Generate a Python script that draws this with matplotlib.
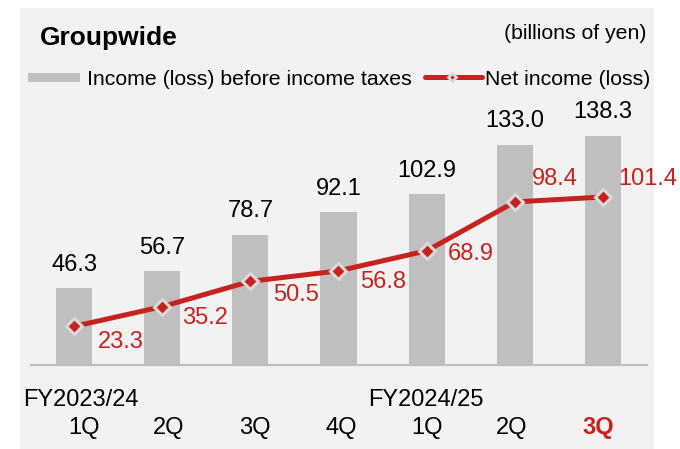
import matplotlib
matplotlib.use('Agg')
import matplotlib.pyplot as plt
from matplotlib.patches import Rectangle
from matplotlib.lines import Line2D
from matplotlib.transforms import blended_transform_factory, offset_copy

plt.rcParams['font.family'] = ['Liberation Sans', 'DejaVu Sans']

# data
quarters = ['1Q', '2Q', '3Q', '4Q', '1Q', '2Q', '3Q']
fiscal_years = ['FY2023/24', 'FY2024/25']
fiscal_year_pos = [0, 4]
pretax = [46.3, 56.7, 78.7, 92.1, 102.9, 133.0, 138.3]
net = [23.3, 35.2, 50.5, 56.8, 68.9, 98.4, 101.4]

# label offsets for net income values (pixels)
net_offsets = [(47, -22), (43, -17), (46, -20), (45, -17), (44, -9), (40, 17), (45, 12)]
# small horizontal nudges of the category labels (pixels)
quarter_nudge = [10, 6, 5, 2.5, 0, -3, -5]
fy_nudge = [6.5, -1]

gris = '#bfbfbf'
rojo = '#c8221f'
fondo = '#f2f2f2'

W, H = 680, 449
fig = plt.figure(figsize=(W / 100, H / 100), dpi=100)
fig.patch.set_facecolor('white')


def fx(x):
    return x / W


def fy(y):
    return 1 - y / H


# gray panel
fig.add_artist(Rectangle((fx(20), 0), fx(654) - fx(20), fy(8), transform=fig.transFigure,
                         facecolor=fondo, edgecolor='none', zorder=-1))

escala = 1.657
ymax = 160
ax = fig.add_axes([fx(31), fy(365), fx(647) - fx(31), ymax * escala / H])
ax.set_facecolor('none')
ax.set_xlim(-0.488, 6.5)
ax.set_ylim(0, ymax)

x = list(range(len(quarters)))
ax.bar(x, pretax, width=0.41, color=gris, zorder=1)
ax.plot(x, net, color=rojo, lw=3.6, marker='D', ms=8, mfc=rojo, mec='#d9d9d9', mew=2.2,
        zorder=3, solid_capstyle='butt')

for s in ['top', 'left', 'right']:
    ax.spines[s].set_visible(False)
ax.spines['bottom'].set_color(gris)
ax.spines['bottom'].set_linewidth(1.6)
ax.spines['bottom'].set_zorder(2)
ax.set_yticks([])
ax.set_xticks([])

for i, v in enumerate(pretax):
    ax.annotate(f'{v:.1f}', (i, v), xytext=(0, 17.5), textcoords='offset pixels',
                ha='center', va='baseline', fontsize=17, color='black')

for i, v in enumerate(net):
    dx, dy = net_offsets[i]
    ax.annotate(f'{v:.1f}', (i, v), xytext=(dx, dy), textcoords='offset pixels',
                ha='center', va='baseline', fontsize=17, color=rojo, zorder=4)

trans = blended_transform_factory(ax.transData, fig.transFigure)
for i, q in enumerate(quarters):
    last = i == len(quarters) - 1
    t = offset_copy(trans, fig=fig, x=quarter_nudge[i], y=0, units='dots')
    ax.text(i, fy(434), q, transform=t, ha='center', va='baseline', fontsize=17,
            color=rojo if last else 'black', fontweight='bold' if last else 'normal')
for p, fyl, n in zip(fiscal_year_pos, fiscal_years, fy_nudge):
    t = offset_copy(trans, fig=fig, x=n, y=0, units='dots')
    ax.text(p, fy(406), fyl, transform=t, ha='center', va='baseline', fontsize=17)

# titles
fig.text(fx(40), fy(45), 'Groupwide', fontsize=19, fontweight='bold', va='baseline')
fig.text(fx(647), fy(39), '(billions of yen)', fontsize=15.3, ha='right', va='baseline')

# legend
fig.add_artist(Rectangle((fx(28), fy(82)), fx(80) - fx(28), fy(73) - fy(82),
                         transform=fig.transFigure, facecolor=gris, edgecolor='none'))
fig.text(fx(87), fy(85), 'Income (loss) before income taxes', fontsize=15.3, va='baseline')
fig.add_artist(Line2D([fx(425), fx(482)], [fy(77), fy(77)], transform=fig.transFigure,
                      color=rojo, lw=3.6, solid_capstyle='round'))
fig.add_artist(Line2D([fx(452)], [fy(77)], transform=fig.transFigure, marker='D', ms=4,
                      mfc=rojo, mec='#d9d9d9', mew=2, lw=0))
fig.text(fx(485), fy(85), 'Net income (loss)', fontsize=15.3, va='baseline')

fig.savefig('out.png', dpi=100, facecolor=fig.get_facecolor())
